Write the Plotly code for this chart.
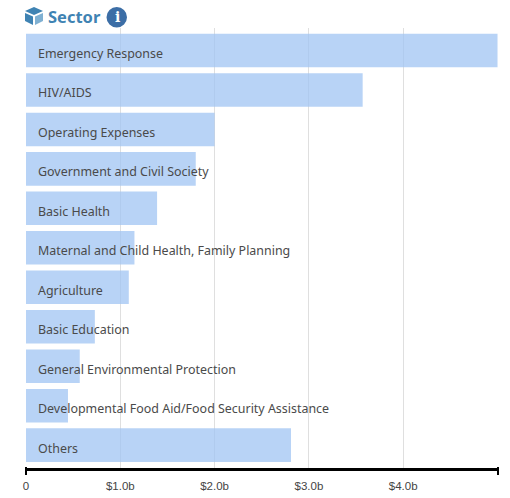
import plotly.graph_objects as go

categories = ["Emergency Response", "HIV/AIDS", "Operating Expenses", "Government and Civil Society",
              "Basic Health", "Maternal and Child Health, Family Planning", "Agriculture", "Basic Education",
              "General Environmental Protection", "Developmental Food Aid/Food Security Assistance", "Others"]
values_bn = [5.0, 3.57, 2.0, 1.8, 1.39, 1.15, 1.09, 0.73, 0.57, 0.445, 2.81]
tick_vals = [0, 1, 2, 3, 4]
tick_text = ["0", "$1.0b", "$2.0b", "$3.0b", "$4.0b"]

W, H = 510, 498
L, T = 26, 28
R, B = W - 498, H - 468
PW, PH = W - L - R, H - T - B

def px(x):
    return (x - L) / PW

def py(y):
    return 1 - (y - T) / PH

def path(points):
    return "M " + " L ".join(f"{px(x):.5f},{py(y):.5f}" for x, y in points) + " Z"

fig = go.Figure(go.Bar(
    x=values_bn, y=categories, orientation="h",
    marker=dict(color="rgba(160,196,243,0.75)", line=dict(width=0)),
    hoverinfo="skip", cliponaxis=False,
))

annotations = [dict(x=0, y=c, xref="x", yref="y", text=c, showarrow=False, xanchor="left", yanchor="middle",
                    xshift=9.5, yshift=-3,
                    font=dict(family="Noto Sans, Lato, sans-serif", size=12.45, color="#4a4a4a"))
               for c in categories]
annotations += [
    dict(x=px(48), y=py(16.5), xref="paper", yref="paper", text="<b>Sector</b>", showarrow=False,
         xanchor="left", yanchor="middle", xshift=-2,
         font=dict(family="Noto Sans, sans-serif", size=16.5, color="#3f83b3")),
    dict(x=px(117), y=py(17), xref="paper", yref="paper", text="<b>i</b>", showarrow=False,
         xanchor="center", yanchor="middle",
         font=dict(family="DejaVu Serif, serif", size=14, color="white")),
]

blue = "#3f83b3"
paper = dict(xref="paper", yref="paper")
shapes = [
    dict(type="path", line=dict(width=0), fillcolor=blue, path=path([(34, 7), (43, 11), (34, 15), (25, 11)]), **paper),
    dict(type="path", line=dict(width=0), fillcolor=blue, path=path([(25, 13), (33, 16.5), (33, 25), (25, 21)]), **paper),
    dict(type="path", line=dict(width=0), fillcolor="#7fb0d2", path=path([(43, 13), (35, 16.5), (35, 25), (43, 21)]), **paper),
    dict(type="circle", line=dict(width=0), fillcolor="#3c6ea6", x0=px(106.5), x1=px(127), y0=py(27.5), y1=py(7), **paper),
    dict(type="path", line=dict(width=0), fillcolor="black", path=path([(25, 467), (27, 467), (27, 475), (25, 475)]), **paper),
    dict(type="path", line=dict(width=0), fillcolor="black", path=path([(497, 467), (499, 467), (499, 475), (497, 475)]), **paper),
]

fig.update_layout(
    width=W, height=H, autosize=False,
    margin=dict(l=L, r=R, t=T, b=B, autoexpand=False),
    paper_bgcolor="white", plot_bgcolor="white",
    bargap=0.15, showlegend=False,
    annotations=annotations, shapes=shapes,
    xaxis=dict(range=[0, 5.005], tickvals=tick_vals, ticktext=tick_text, side="bottom", automargin=False,
               showgrid=True, gridcolor="#dfdfdf", gridwidth=1, zeroline=False,
               showline=True, linecolor="black", linewidth=2.5,
               ticks="outside", ticklen=5, tickcolor="rgba(0,0,0,0)",
               tickfont=dict(family="Liberation Sans, Arial, sans-serif", size=11.5, color="#444")),
    yaxis=dict(range=[10.58, -0.57], categoryorder="array", categoryarray=categories, automargin=False,
               showticklabels=False, showgrid=False, zeroline=False, showline=False, ticks=""),
)
fig.write_html("out.html", config=dict(displayModeBar=False), post_script="document.body.style.margin='0';")
